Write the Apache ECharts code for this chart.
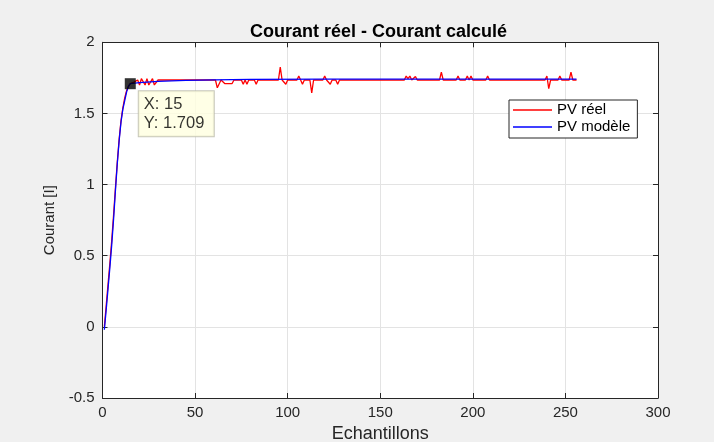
<!DOCTYPE html>
<html>
<head>
<meta charset="utf-8">
<script src="https://cdn.jsdelivr.net/npm/echarts@6/dist/echarts.min.js"></script>
<style>
  html, body { margin: 0; padding: 0; background: #f0f0f0; }
  #chart { width: 714px; height: 442px; }
</style>
</head>
<body>
<div id="chart"></div>
<script>
// Measured current (red): polyline vertices, sample index -> value
const reelSamples = [1,2,3,4,5,6,7,8,9,10,11,12,13,14,15,17,19,20,21,23,24,25,27,28,30,
  61,62,64,65,66,70,71,75,76,77,78,79,82,83,84,95,96,97,98,99,100,105,106,107,108,109,
  112,113,114,119,120,121,122,123,124,126,127,128,163,164,165,166,167,168,169,170,
  182,183,184,191,192,193,196,197,198,199,200,207,208,209,239,240,241,242,246,247,248,
  252,253,254,256];
const reelValues = [0.00,0.15,0.30,0.45,0.61,0.79,0.98,1.16,1.32,1.45,1.54,1.61,1.66,1.69,1.71,1.72,1.735,1.70,1.745,1.70,1.745,1.70,1.745,1.70,1.735,
  1.735,1.68,1.735,1.735,1.71,1.71,1.735,1.735,1.705,1.735,1.705,1.735,1.735,1.705,1.735,1.735,1.826,1.735,1.735,1.705,1.735,1.735,1.763,1.735,1.705,1.735,
  1.735,1.645,1.735,1.735,1.763,1.735,1.735,1.705,1.735,1.735,1.705,1.735,1.735,1.763,1.745,1.763,1.735,1.735,1.76,1.735,
  1.735,1.79,1.735,1.735,1.763,1.735,1.735,1.763,1.735,1.763,1.735,1.735,1.763,1.735,1.735,1.763,1.675,1.735,1.735,1.763,1.735,
  1.735,1.79,1.735,1.735];

// Model current (blue): polyline vertices
const modelSamples = [1,2,3,4,5,6,7,8,9,10,11,12,13,14,15,20,30,45,60,80,120,256];
const modelValues = [-0.02,0.12,0.27,0.42,0.58,0.76,0.96,1.15,1.31,1.44,1.53,1.59,1.65,1.69,1.709,1.716,1.725,1.732,1.736,1.739,1.741,1.741];

// Data tip on the model curve
const tipSample = 15;
const tipValue = 1.709;

const seriesNames = ['PV réel', 'PV modèle'];
const xTicks = { min: 0, max: 300, step: 50 };
const yTicks = { min: -0.5, max: 2, step: 0.5 };

const FONT = '"Liberation Sans", Arial, Helvetica, sans-serif';
const INK = '#262626';

const zip = (xs, ys) => xs.map((x, i) => [x, ys[i]]);

const chart = echarts.init(document.getElementById('chart'), null, { renderer: 'canvas' });

const baseX = {
  type: 'value', min: xTicks.min, max: xTicks.max, interval: xTicks.step,
  axisLine: { show: true, onZero: false, lineStyle: { color: INK, width: 1 } },
  axisTick: { show: true, inside: true, length: 5, lineStyle: { color: INK } }
};
const baseY = {
  type: 'value', min: yTicks.min, max: yTicks.max, interval: yTicks.step,
  axisLine: { show: true, onZero: false, lineStyle: { color: INK, width: 1 } },
  axisTick: { show: true, inside: true, length: 5, lineStyle: { color: INK } }
};

chart.setOption({
  backgroundColor: '#f0f0f0',
  animation: false,
  title: {
    text: 'Courant réel - Courant calculé',
    left: 250,
    top: 23,
    padding: 0,
    textStyle: { fontFamily: FONT, fontSize: 18, fontWeight: 'bold', color: '#000' }
  },
  grid: {
    left: 102.5, right: 56, top: 42.3, bottom: 44,
    outerBoundsMode: 'none',
    show: true, backgroundColor: '#ffffff', borderWidth: 0,
    containLabel: false
  },
  legend: {
    data: seriesNames,
    orient: 'vertical',
    left: 509, top: 100,
    icon: 'rect',
    itemWidth: 39, itemHeight: 1.5, itemGap: 1,
    padding: [2, 7, 3, 4],
    backgroundColor: '#ffffff',
    borderColor: INK, borderWidth: 1,
    textStyle: { fontFamily: FONT, fontSize: 15, color: '#000', lineHeight: 16 }
  },
  xAxis: [
    Object.assign({}, baseX, {
      position: 'bottom',
      name: 'Echantillons', nameLocation: 'middle', nameGap: 27,
      nameTextStyle: { fontFamily: FONT, fontSize: 18, color: INK },
      axisLabel: { color: INK, fontFamily: FONT, fontSize: 15, margin: 7 },
      splitLine: { show: true, lineStyle: { color: '#e3e3e3', width: 1 } }
    }),
    Object.assign({}, baseX, {
      position: 'top',
      axisLabel: { show: false }, splitLine: { show: false }
    })
  ],
  yAxis: [
    Object.assign({}, baseY, {
      position: 'left',
      name: 'Courant [I]', nameLocation: 'middle', nameGap: 43,
      nameTextStyle: { fontFamily: FONT, fontSize: 15, color: INK },
      axisLabel: { color: INK, fontFamily: FONT, fontSize: 15, margin: 8 },
      splitLine: { show: true, lineStyle: { color: '#e3e3e3', width: 1 } }
    }),
    Object.assign({}, baseY, {
      position: 'right',
      axisLabel: { show: false }, splitLine: { show: false }
    })
  ],
  series: [
    {
      name: seriesNames[0], type: 'line',
      data: zip(reelSamples, reelValues),
      symbol: 'none', lineStyle: { color: '#ff0000', width: 1.3 },
      itemStyle: { color: '#ff0000' }, z: 3
    },
    {
      name: seriesNames[1], type: 'line',
      data: zip(modelSamples, modelValues),
      symbol: 'none', lineStyle: { color: '#0000ff', width: 1.3 },
      itemStyle: { color: '#0000ff' }, z: 4
    },
    {
      name: 'datatip', type: 'scatter',
      data: [[tipSample, tipValue]],
      symbol: 'rect', symbolSize: [11, 11],
      itemStyle: { color: '#000000' }, z: 10,
      label: {
        show: true,
        position: [14, 13],
        formatter: p => 'X: ' + p.value[0] + '\nY: ' + p.value[1].toFixed(3),
        fontFamily: FONT, fontSize: 16.5, lineHeight: 19, color: '#000',
        backgroundColor: '#ffffe0', borderColor: '#b9b9a8', borderWidth: 1,
        padding: [3.5, 7, 3.5, 5], width: 63, align: 'left'
      }
    }
  ]
});
</script>
</body>
</html>
